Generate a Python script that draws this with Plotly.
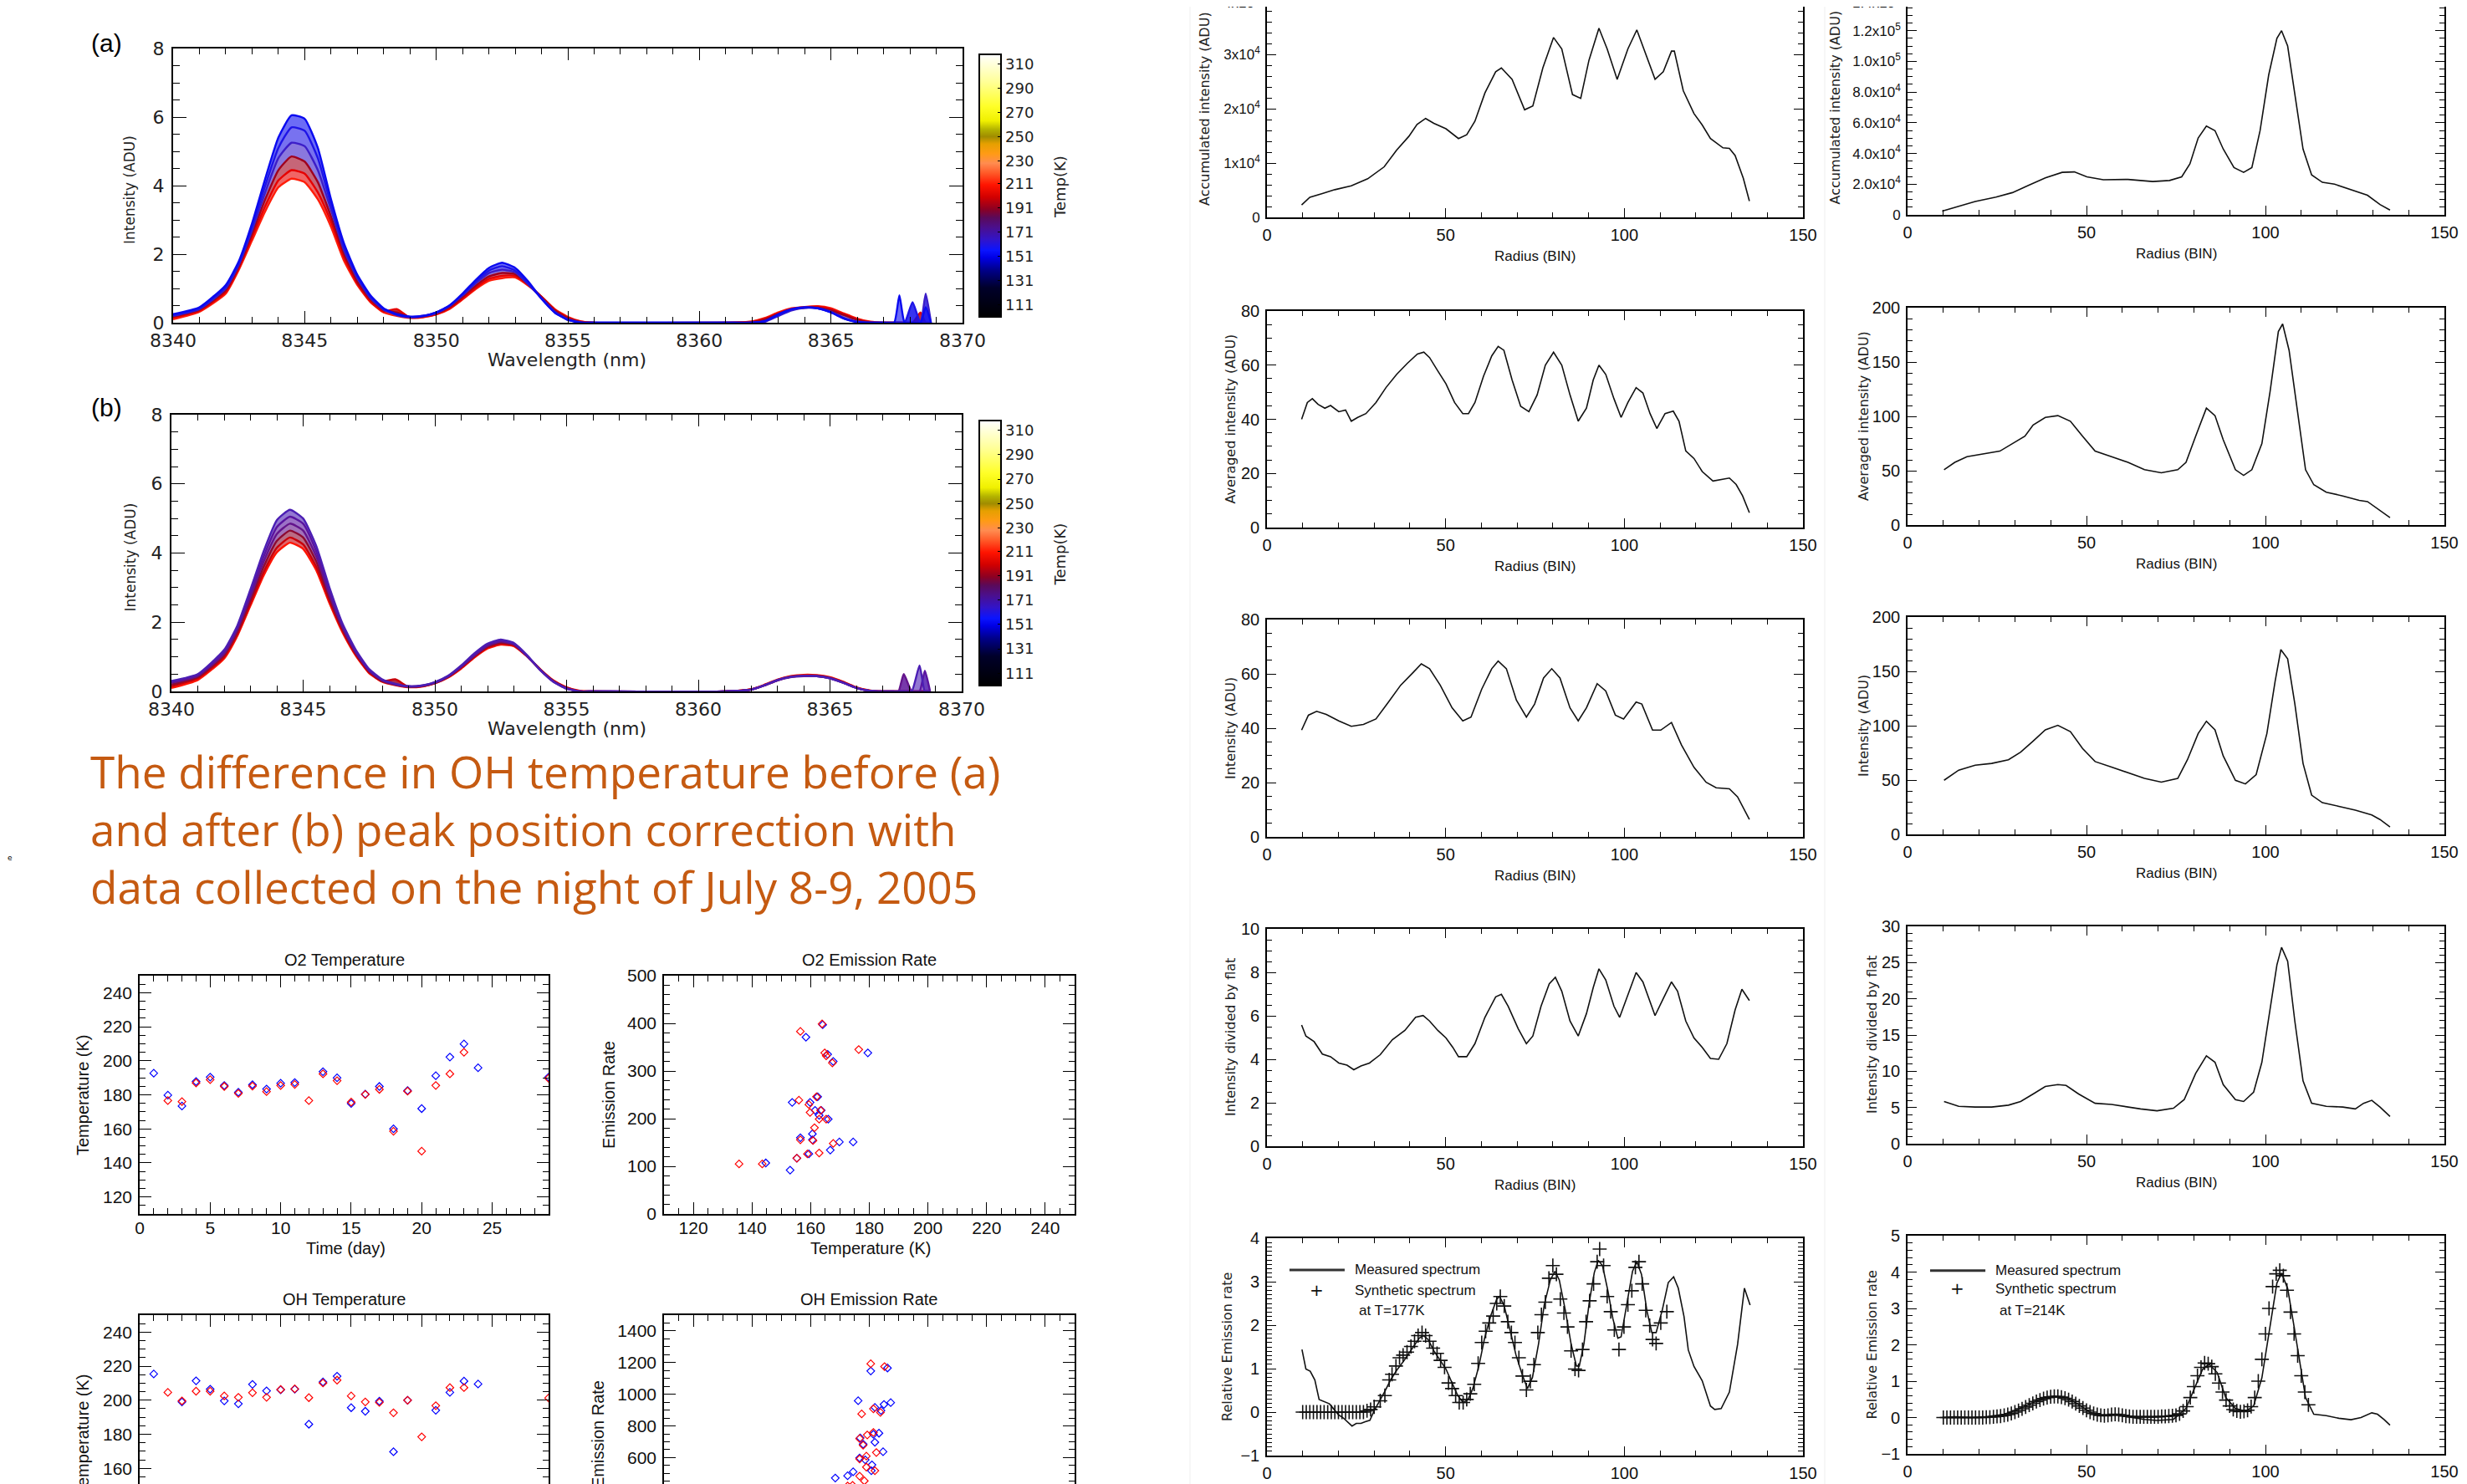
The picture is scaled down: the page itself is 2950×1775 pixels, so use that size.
import plotly.graph_objects as go

W, H = 2950, 1775

# ======================= DATA =======================
# ---- OH spectra (a) before and (b) after peak-position correction ----
wavelength_nm = [8340, 8341, 8342, 8342.5, 8343, 8343.5, 8344, 8344.5, 8345, 8345.5, 8346, 8346.5,
                 8347, 8347.5, 8348, 8348.5, 8349, 8349.5, 8350, 8350.5, 8351, 8351.5, 8352, 8352.5,
                 8353, 8353.5, 8354, 8354.5, 8355, 8355.5, 8356, 8361, 8362, 8362.5, 8363, 8363.5,
                 8364, 8364.5, 8365, 8365.5, 8366, 8366.5, 8367, 8367.4, 8367.6, 8367.8, 8368.1,
                 8368.4, 8368.6, 8368.8]

spec_a_T145 = [0.25, 0.45, 1.1, 1.8, 2.9, 4.2, 5.4, 6.05, 5.95, 5.1, 3.6, 2.3, 1.4, 0.8, 0.42, 0.25, 0.18, 0.2,
               0.3, 0.5, 0.85, 1.25, 1.6, 1.75, 1.6, 1.2, 0.7, 0.3, 0.08, 0, 0, 0, 0, 0.05, 0.25, 0.4, 0.45,
               0.42, 0.3, 0.12, 0.02, 0, 0, 0, 0.8, 0, 0, 0, 0.45, 0]
spec_a_T152 = [0.22, 0.42, 1.05, 1.75, 2.8, 4.0, 5.1, 5.7, 5.6, 4.8, 3.45, 2.2, 1.35, 0.75, 0.4, 0.24, 0.17, 0.2,
               0.3, 0.5, 0.82, 1.2, 1.52, 1.65, 1.52, 1.15, 0.7, 0.3, 0.08, 0, 0, 0, 0, 0.05, 0.22, 0.38, 0.44,
               0.42, 0.3, 0.12, 0.02, 0, 0, 0, 0, 0, 0.6, 0, 0, 0]
spec_a_T165 = [0.2, 0.4, 1.0, 1.7, 2.7, 3.8, 4.8, 5.25, 5.15, 4.45, 3.3, 2.1, 1.3, 0.72, 0.38, 0.22, 0.16, 0.19,
               0.28, 0.48, 0.8, 1.15, 1.45, 1.55, 1.47, 1.12, 0.72, 0.32, 0.1, 0.01, 0, 0, 0, 0.03, 0.2, 0.36,
               0.43, 0.42, 0.32, 0.14, 0.03, 0, 0, 0, 0, 0, 0, 0, 0.85, 0]
spec_a_T186 = [0.18, 0.38, 0.95, 1.65, 2.6, 3.6, 4.45, 4.85, 4.7, 4.1, 3.1, 2.0, 1.2, 0.68, 0.36, 0.3, 0.16, 0.18,
               0.27, 0.45, 0.75, 1.08, 1.35, 1.45, 1.42, 1.12, 0.75, 0.36, 0.13, 0.02, 0, 0, 0.02, 0.1, 0.25,
               0.38, 0.44, 0.44, 0.36, 0.22, 0.08, 0.01, 0, 0, 0, 0, 0, 0, 0, 0]
spec_a_T200 = [0.15, 0.35, 0.9, 1.6, 2.5, 3.4, 4.15, 4.45, 4.35, 3.8, 2.95, 1.9, 1.15, 0.62, 0.33, 0.4, 0.15, 0.17,
               0.25, 0.42, 0.7, 1.02, 1.28, 1.37, 1.37, 1.1, 0.76, 0.38, 0.15, 0.03, 0, 0, 0.03, 0.12, 0.28, 0.4,
               0.45, 0.47, 0.4, 0.25, 0.1, 0.02, 0, 0, 0, 0, 0, 0.3, 0, 0]
spec_a_T208 = [0.1, 0.32, 0.85, 1.55, 2.4, 3.25, 3.95, 4.2, 4.1, 3.6, 2.8, 1.8, 1.1, 0.6, 0.3, 0.2, 0.14, 0.16,
               0.24, 0.4, 0.68, 0.98, 1.22, 1.3, 1.32, 1.08, 0.76, 0.4, 0.17, 0.04, 0, 0, 0.04, 0.14, 0.3, 0.42,
               0.46, 0.48, 0.42, 0.27, 0.12, 0.03, 0, 0, 0, 0, 0, 0, 0, 0]

spec_b_T160 = [0.3, 0.5, 1.2, 1.9, 2.95, 4.05, 4.95, 5.25, 5.0, 4.2, 3.0, 1.95, 1.2, 0.65, 0.35, 0.22, 0.15, 0.17,
               0.27, 0.45, 0.75, 1.1, 1.38, 1.5, 1.4, 1.05, 0.62, 0.28, 0.08, 0, 0, 0, 0.05, 0.18, 0.33, 0.42,
               0.45, 0.44, 0.38, 0.25, 0.1, 0.02, 0, 0, 0, 0, 0, 0.75, 0, 0]
spec_b_T170 = [0.28, 0.48, 1.15, 1.85, 2.85, 3.9, 4.75, 5.05, 4.85, 4.05, 2.9, 1.9, 1.15, 0.62, 0.33, 0.21, 0.15,
               0.17, 0.26, 0.44, 0.73, 1.07, 1.35, 1.47, 1.38, 1.03, 0.62, 0.28, 0.08, 0, 0, 0, 0.05, 0.17, 0.32,
               0.42, 0.45, 0.44, 0.38, 0.25, 0.1, 0.02, 0, 0, 0, 0, 0, 0, 0.6, 0]
spec_b_T178 = [0.25, 0.45, 1.1, 1.8, 2.75, 3.75, 4.55, 4.85, 4.65, 3.9, 2.8, 1.85, 1.12, 0.6, 0.32, 0.2, 0.14, 0.16,
               0.25, 0.43, 0.71, 1.04, 1.32, 1.44, 1.36, 1.02, 0.62, 0.29, 0.09, 0, 0, 0, 0.05, 0.17, 0.32, 0.41,
               0.44, 0.44, 0.38, 0.25, 0.1, 0.02, 0, 0, 0, 0.5, 0, 0, 0, 0]
spec_b_T190 = [0.2, 0.42, 1.05, 1.72, 2.65, 3.6, 4.35, 4.65, 4.45, 3.75, 2.7, 1.8, 1.1, 0.58, 0.3, 0.19, 0.13, 0.15,
               0.24, 0.42, 0.7, 1.02, 1.3, 1.41, 1.35, 1.02, 0.63, 0.3, 0.1, 0, 0, 0, 0.05, 0.17, 0.32, 0.42, 0.45,
               0.45, 0.39, 0.26, 0.1, 0.02, 0, 0, 0, 0, 0, 0, 0, 0]
spec_b_T200 = [0.15, 0.38, 1.0, 1.65, 2.55, 3.45, 4.15, 4.45, 4.25, 3.6, 2.62, 1.75, 1.06, 0.55, 0.29, 0.35, 0.13,
               0.15, 0.24, 0.41, 0.68, 1.0, 1.27, 1.38, 1.33, 1.02, 0.64, 0.31, 0.11, 0.01, 0, 0, 0.06, 0.18, 0.33,
               0.43, 0.46, 0.46, 0.4, 0.27, 0.11, 0.02, 0, 0, 0, 0, 0, 0, 0, 0]
spec_b_T210 = [0.1, 0.33, 0.95, 1.6, 2.48, 3.35, 4.02, 4.3, 4.12, 3.5, 2.55, 1.7, 1.03, 0.53, 0.28, 0.18, 0.12, 0.14,
               0.23, 0.4, 0.66, 0.98, 1.24, 1.35, 1.31, 1.01, 0.64, 0.32, 0.12, 0.02, 0, 0, 0.06, 0.19, 0.34, 0.44,
               0.48, 0.47, 0.41, 0.28, 0.12, 0.03, 0, 0, 0, 0, 0, 0, 0, 0]

colorbar_ticks = [111, 131, 151, 171, 191, 211, 230, 250, 270, 290, 310]

# ---- O2 / OH temperature and emission-rate scatter ----
o2t_blue_day = [1, 2, 3, 4, 5, 6, 7, 8, 9, 10, 11, 13, 14, 15, 16, 17, 18, 19, 20, 21, 22, 23, 24, 29]
o2t_blue_T = [192.7, 179.8, 173.4, 187.8, 190.4, 185.5, 181.5, 185.9, 183.4, 186.8, 187.2, 193.6, 190.0, 174.9,
              180.4, 184.9, 160.0, 182.5, 171.9, 191.2, 202.2, 209.9, 195.9, 190.4]
o2t_red_day = [2, 3, 4, 5, 6, 7, 8, 9, 10, 11, 12, 13, 14, 15, 16, 17, 18, 19, 20, 21, 22, 23, 29]
o2t_red_T = [176.6, 176.0, 187.0, 188.9, 184.9, 180.8, 185.1, 181.9, 185.5, 186.1, 176.6, 192.3, 188.3, 175.7,
             180.2, 183.2, 158.6, 182.1, 146.9, 185.5, 192.3, 205.0, 189.7]

o2e_red_T = [135.6, 143.5, 156.0, 156.5, 159.4, 159.8, 160.8, 156.5, 155.3, 158.9, 161.3, 162.0, 162.9, 163.4,
             162.9, 163.9, 164.8, 165.3, 165.3, 167.4, 167.7, 176.4]
o2e_red_rate = [105, 105, 238.7, 383, 229.6, 213, 154, 155.6, 117, 126, 181, 246, 199, 217.5, 128, 398.8, 338,
                199, 332, 317, 148, 345]
o2e_blue_T = [144.7, 153.0, 153.7, 156.5, 155.3, 158.4, 159.4, 159.8, 160.6, 160.6, 161.5, 162.4, 162.9, 163.6,
              164.1, 165.8, 166.0, 166.7, 167.7, 169.8, 174.5, 179.5]
o2e_blue_rate = [107, 92, 234, 160, 117, 371, 126, 234, 168, 155.6, 217.5, 246, 207, 217.5, 397, 335, 199, 134,
                 320, 151, 151, 338]

oht_blue_day = [1, 3, 4, 5, 6, 7, 8, 9, 10, 11, 12, 13, 14, 15, 16, 17, 18, 19, 21, 22, 23, 24]
oht_blue_T = [215.4, 199.0, 211.4, 206.5, 199.6, 197.9, 209.3, 205.5, 206.1, 206.5, 185.9, 210.7, 214.1, 195.6,
              193.5, 199.4, 169.7, 200.0, 194.1, 204.6, 211.2, 209.5]
oht_red_day = [2, 3, 4, 5, 6, 7, 8, 9, 10, 11, 12, 13, 14, 15, 16, 17, 18, 19, 20, 21, 22, 23, 29]
oht_red_T = [204.6, 199.6, 205.3, 205.3, 202.5, 201.7, 204.4, 201.7, 206.3, 206.7, 201.5, 210.1, 211.8, 202.5,
             199.0, 198.7, 192.6, 200.0, 178.5, 196.8, 207.4, 207.4, 201.3]

ohe_red_T = [180.5, 185.2, 181.4, 177.4, 183.8, 176.7, 179.3, 181.4, 177.9, 176.7, 179.0, 179.0, 182.4, 181.9,
             176.7, 178.3, 172.6, 174.3]
ohe_red_rate = [1193, 1175, 908, 876, 885, 720, 743, 759, 678, 591, 609, 540, 632, 517, 483, 453, 421, 425]
ohe_blue_T = [180.5, 186.2, 176.2, 181.9, 185.0, 187.3, 184.0, 183.3, 181.4, 176.9, 181.9, 177.9, 184.7, 176.7,
              178.6, 180.9, 180.7, 174.5, 168.4, 172.6, 173.8]
ohe_blue_rate = [1147, 1166, 959, 917, 936, 947, 897, 754, 747, 724, 697, 685, 637, 598, 586, 554, 517, 510, 471,
                 485, 407]

# ---- radial profiles (left column: O2, right column: OH) ----
acc_o2_r = [9.7, 12, 15.5, 19, 23.6, 28.2, 32.8, 36.3, 39.7, 42, 44.4, 46.7, 50.1, 53.6, 55.9, 58.2, 61, 64, 65.6,
            68.6, 72.1, 74.4, 77.2, 80.2, 82.5, 85.5, 87.8, 90.1, 92.9, 95.2, 98, 101, 103.5, 105.8, 108.6, 110.9,
            113.2, 114, 116.5, 119.5, 121.8, 124.1, 127.6, 129.4, 131, 133.3, 135]
acc_o2_val = [2300, 3700, 4400, 5100, 5800, 7100, 9300, 12400, 14900, 17100, 18200, 17300, 16300, 14500, 15200,
              17700, 22900, 26800, 27500, 25400, 19800, 20500, 27500, 33100, 31000, 22600, 21900, 28900, 34800,
              31000, 25400, 31000, 34500, 30300, 25400, 26800, 30600, 30600, 23300, 19100, 17000, 14500, 12800,
              12700, 11400, 7200, 3000]
acc_oh_r = [9.7, 14.3, 18.9, 24.7, 29.3, 33.9, 38.5, 43.2, 46.6, 50.1, 54.7, 61.6, 68.5, 73.2, 76.6, 78.9, 81.2,
            83.5, 85.9, 88.2, 91.2, 93.9, 96.2, 98.5, 100.9, 103.2, 104.5, 106.2, 108.2, 110.5, 112.9, 115.9,
            119.3, 123.9, 128.5, 132, 134.8]
acc_oh_val = [2400, 5500, 8700, 11600, 14500, 19300, 24100, 27700, 28000, 24800, 22900, 23100, 21700, 22400,
              24800, 33300, 50100, 57800, 54900, 42900, 30800, 27700, 30800, 54900, 91100, 115000, 120000, 110000,
              79000, 42900, 26000, 21200, 20000, 16400, 12800, 6700, 3100]

avg_o2_r = [9.7, 11.3, 12.7, 14.3, 16.2, 17.8, 20.1, 22, 23.6, 25.4, 27.7, 30.5, 33.3, 36.3, 39.3, 42.1, 43.9, 45.5,
            47.8, 50.1, 52.5, 54.8, 56.4, 58.2, 60.6, 62.9, 64.7, 66.3, 68.6, 71, 73.3, 75.6, 77.9, 80.2, 82.5,
            84.8, 87.1, 89.4, 91.3, 92.9, 94.8, 97.1, 99.1, 101, 103.3, 105.2, 107.2, 109.1, 111.4, 113.7, 115.3,
            117.2, 119.5, 121.8, 124.8, 127.6, 129.4, 131.3, 133.1, 135]
avg_o2_val = [40.0, 46.2, 47.6, 45.5, 44.1, 45.1, 42.8, 43.4, 39.3, 40.7, 42.1, 46.2, 51.7, 56.6, 60.7, 64.1, 64.8,
              62.8, 57.9, 53.1, 46.2, 42.1, 42.1, 46.2, 55.9, 63.4, 66.9, 65.5, 54.5, 44.8, 42.8, 49.0, 60.0, 64.8,
              60.0, 49.0, 39.3, 44.1, 54.5, 60.0, 56.6, 47.6, 40.7, 46.2, 51.7, 49.7, 42.1, 36.6, 42.1, 43.0, 39.3,
              28.3, 25.5, 20.7, 17.2, 17.9, 18.3, 15.9, 11.7, 5.5]
avg_oh_r = [10.2, 13.2, 16.6, 21.2, 25.8, 29.3, 32.8, 35.1, 38.5, 42, 45.5, 48.9, 52.4, 57, 61.6, 66.2, 70.9, 75.5,
            77.8, 80.5, 83.5, 85.9, 88.2, 91.6, 93.9, 96.2, 99, 101.3, 103.6, 104.8, 106.6, 108.9, 111.2, 113.5,
            117, 121.6, 126.2, 128.5, 131.3, 134.8]
avg_oh_val = [50.9, 57.7, 62.9, 65.3, 68.0, 74.9, 81.8, 92.1, 99.0, 100.7, 95.5, 81.8, 68.0, 62.9, 57.7, 50.9, 48.1,
              50.9, 57.7, 81.8, 107.6, 100.7, 78.4, 50.9, 45.7, 50.9, 74.9, 123, 178, 185, 160.8, 105.8, 50.9,
              37.1, 30.2, 26.8, 22.7, 21.6, 14.8, 6.9]

int_o2_r = [9.7, 11.6, 13.9, 16.6, 20.1, 23.6, 27, 30.5, 34, 37.4, 40.9, 43.2, 45.5, 48.5, 51.8, 54.8, 57.1, 60.1,
            62.9, 64.7, 67, 69.8, 72.6, 74.9, 77.4, 79.7, 82, 84.8, 87.1, 89.4, 92.4, 94.8, 97.5, 99.8, 103.3, 104.9,
            107.9, 110.2, 113.2, 116, 119.5, 122.9, 125.7, 129.4, 131.7, 135]
int_o2_val = [39.3, 44.8, 46.2, 45.1, 42.7, 40.7, 41.4, 43.4, 49.6, 55.8, 60.5, 63.7, 61.9, 55.8, 47.5, 42.7, 44.1,
              54.4, 61.9, 64.7, 61.9, 50.3, 44.1, 48.9, 58.5, 61.9, 58.5, 47.5, 42.7, 47.5, 56.4, 53.7, 44.8, 43.4,
              49.6, 48.9, 39.3, 39.3, 42.1, 33.8, 25.6, 20.1, 18.1, 17.7, 14.7, 6.4]
int_oh_r = [10.2, 14.3, 18.9, 23.5, 28.2, 31.6, 35.1, 38.5, 42, 45.5, 48.9, 52.4, 57, 61.6, 66.2, 70.9, 75.5, 78.2,
            81.2, 83.5, 85.9, 88.2, 91.6, 94.4, 97.4, 100.4, 102.7, 104.3, 106.2, 108.2, 110.5, 112.9, 115.9,
            120.5, 125.1, 129.7, 132, 134.8]
int_oh_val = [49.8, 59.1, 63.6, 65.3, 68.7, 75.6, 85.9, 96.2, 100.3, 94.5, 79.0, 67.0, 61.9, 56.7, 51.5, 48.1, 51.5,
              68.7, 92.8, 104.1, 96.2, 72.2, 49.8, 46.4, 55.0, 92.8, 140.9, 170, 161.5, 120.3, 65.3, 36.1, 29.2,
              25.8, 22.3, 17.9, 13.7, 6.9]

flat_o2_r = [9.7, 10.9, 13.2, 15.5, 17.8, 20.1, 22.4, 24.3, 26.3, 28.7, 31.7, 35.1, 38.6, 41.6, 43.7, 45.5, 47.8,
             50.1, 52, 53.6, 55.9, 58.2, 61, 64, 65.6, 67.5, 70.3, 72.6, 74.4, 76.7, 79, 80.7, 82.5, 84.8, 87.1,
             89.4, 91.3, 92.9, 94.8, 97.1, 98.7, 101, 103.3, 105.2, 107.2, 108.6, 110.9, 113.2, 114.9, 117.2,
             119.5, 121.8, 124.1, 126.4, 128.7, 131, 132.9, 135]
flat_o2_val = [5.58, 5.07, 4.81, 4.24, 4.12, 3.83, 3.73, 3.52, 3.69, 3.83, 4.21, 4.90, 5.33, 5.93, 6.01, 5.76, 5.33,
               4.98, 4.55, 4.12, 4.12, 4.72, 5.93, 6.87, 6.99, 6.44, 5.41, 4.72, 5.07, 6.44, 7.47, 7.77, 7.13, 5.76,
               5.07, 6.10, 7.30, 8.16, 7.65, 6.44, 5.93, 6.96, 7.99, 7.56, 6.62, 6.01, 6.79, 7.56, 7.13, 5.76, 4.98,
               4.55, 4.04, 4.00, 4.72, 6.27, 7.22, 6.70]
flat_oh_r = [10.2, 14.3, 18.9, 23.5, 28.2, 31.6, 35.1, 38.5, 42, 44.3, 47.8, 52.4, 57, 61.6, 65.1, 69.7, 74.3, 77.3,
             80.5, 83.5, 85.9, 88.2, 91.6, 93.9, 96.7, 99, 101.3, 103.2, 104.5, 106.2, 108.2, 110.5, 112.9, 117,
             121.6, 125.1, 127.4, 129.7, 132, 134.8]
flat_oh_val = [5.83, 5.16, 5.06, 5.06, 5.32, 5.83, 6.87, 7.90, 8.16, 8.05, 6.87, 5.58, 5.42, 5.06, 4.80, 4.54, 4.90,
               6.09, 9.71, 12.13, 11.25, 8.16, 6.09, 5.83, 7.12, 11.25, 18.48, 24.68, 27.1, 25.19, 16.93, 8.67,
               5.58, 5.16, 5.06, 4.80, 5.58, 5.99, 5.06, 3.77]

meas_o2_r = [9.8, 10.9, 12.1, 13.4, 14.6, 15.9, 17.5, 18.8, 20, 21.3, 22.5, 23.8, 25, 26.3, 27.5, 28.8, 30, 31.3, 33,
             34.6, 36.3, 38.4, 40.5, 42.6, 43.8, 45.1, 46.7, 48.4, 50.1, 51.8, 53.4, 54.9, 56.3, 57.6, 59.3, 60.9,
             62.6, 64.3, 65.1, 66.4, 68, 69.7, 71.4, 72.9, 74.3, 76, 77.6, 79.3, 80.6, 81.8, 83.5, 85.1, 86.6, 87.4,
             88.7, 90.2, 91.6, 92.7, 93.9, 95.4, 96.8, 98.2, 99.1, 100.6, 102.3, 103.5, 104.8, 106.3, 107.7, 108.9,
             110.6, 112.3, 113.8, 115.1, 116.7, 117.9, 119.5, 121.8, 124.1, 125.3, 127.1, 129.4, 131.7, 133.6, 135.2]
meas_o2_val = [1.44, 0.99, 0.94, 0.74, 0.29, 0.24, 0.19, 0.06, -0.06, -0.13, -0.22, -0.32, -0.26, -0.26, -0.22,
               -0.19, 0.03, 0.22, 0.48, 0.74, 0.96, 1.19, 1.44, 1.70, 1.76, 1.67, 1.41, 1.19, 0.99, 0.67, 0.38,
               0.22, 0.29, 0.54, 1.06, 1.70, 2.21, 2.60, 2.66, 2.44, 1.89, 1.31, 0.87, 0.54, 0.80, 1.57, 2.47, 3.04,
               3.24, 3.04, 2.34, 1.57, 1.06, 1.06, 1.57, 2.53, 3.21, 3.49, 3.37, 2.79, 2.15, 1.70, 1.73, 2.47, 3.24,
               3.46, 3.17, 2.34, 1.83, 1.83, 2.34, 2.98, 3.11, 2.85, 2.20, 1.43, 1.05, 0.72, 0.14, 0.06, 0.08, 0.46,
               1.56, 2.85, 2.46]
syn_o2_r = [10, 11, 12, 13, 14, 15, 16, 17, 18, 19, 20, 21, 22, 23, 24, 25, 26, 27, 28, 29, 30, 31.7, 33, 34.2, 35,
            36.1, 37.1, 38.1, 39.2, 40.3, 41.3, 42.3, 43.4, 44.4, 45.5, 46.5, 47.6, 48.6, 49.7, 50.8, 51.8, 52.8,
            53.8, 54.9, 55.9, 56.9, 58, 59.1, 60.1, 61.2, 62.2, 63.3, 64.3, 65.3, 66.4, 67.4, 68.4, 69.4, 70.5, 71.5,
            72.6, 73.7, 74.7, 75.8, 76.8, 77.9, 78.9, 80, 81, 82.1, 83.1, 84.1, 85.1, 86.2, 87.2, 88.3, 89.3, 90.3,
            91.4, 92.4, 93.1, 94.2, 95.2, 96.2, 97.2, 98.5, 99.9, 101, 102.1, 103.1, 104.1, 105, 106, 107.1, 107.9,
            108.9, 110.2, 111.9]
syn_o2_val = [0, 0, 0, 0, 0, 0, 0, 0, 0, 0, 0, 0, 0, 0, 0, 0, 0, 0, 0.03, 0.06, 0.12, 0.26, 0.38, 0.74, 0.87, 1.06,
              1.25, 1.31, 1.38, 1.51, 1.63, 1.76, 1.83, 1.76, 1.63, 1.47, 1.35, 1.19, 1.03, 0.67, 0.54, 0.38, 0.22,
              0.22, 0.29, 0.42, 0.64, 1.12, 1.60, 1.86, 2.05, 2.21, 2.50, 2.66, 2.44, 2.08, 1.83, 1.60, 1.25, 0.83,
              0.51, 0.71, 1.09, 1.83, 2.24, 2.53, 3.08, 3.37, 3.17, 2.60, 2.28, 1.96, 1.41, 0.99, 0.96, 1.44, 2.08,
              2.56, 2.95, 3.46, 3.75, 3.37, 2.66, 2.31, 1.89, 1.44, 1.96, 2.47, 2.79, 3.33, 3.46, 2.95, 2.34, 1.99,
              1.67, 1.58, 2.05, 2.31]

meas_oh_r = [9.7, 13.2, 17.8, 22.4, 27, 30.5, 33.9, 37.4, 40.8, 44.3, 47.8, 51.2, 54.7, 58.2, 61.6, 66.2, 69.7,
             74.3, 77.8, 80.1, 82.4, 84.2, 86.5, 88.9, 91.6, 94.4, 96.7, 99, 101.3, 103.2, 104.5, 106.2, 107.8,
             109.6, 111.2, 113.5, 117, 120.5, 123.9, 126.7, 129.7, 131.3, 133.2, 134.8]
meas_oh_val = [0, 0.02, 0, 0.03, 0.09, 0.21, 0.36, 0.51, 0.59, 0.55, 0.36, 0.13, 0.05, 0.09, 0.02, -0.05, -0.08,
               -0.05, 0.25, 0.78, 1.32, 1.47, 1.24, 0.55, 0.25, 0.17, 0.32, 1.09, 2.55, 3.70, 3.97, 3.55, 2.62, 1.55,
               0.55, 0.09, 0.05, -0.02, -0.06, 0, 0.13, 0.09, -0.06, -0.21]
syn_oh_r = [10, 11, 12, 13, 14, 15, 16, 17, 18, 19, 20, 21, 22, 23, 24, 25, 26, 27, 28, 29, 30, 31, 32, 33, 34, 35,
            36, 37, 38, 39, 40, 41, 42, 43, 44, 45, 46, 47, 48, 49, 50, 51, 52, 53, 54, 55, 56, 57, 58, 59, 60, 61,
            62, 63, 64, 65, 66, 67, 68, 69, 70, 71, 72, 73, 74, 75, 76, 77, 78, 79, 80, 81, 82, 83, 84, 85, 86, 87,
            88, 89, 90, 91, 92, 93, 94, 95, 96, 97, 98, 99, 100, 101, 102, 103, 104, 105, 106, 107, 108, 109, 110,
            111, 112]
syn_oh_val = [0, 0, 0, 0, 0, 0, 0, 0, 0, 0, 0, 0, 0.01, 0.01, 0.02, 0.03, 0.04, 0.06, 0.08, 0.11, 0.15, 0.19, 0.24,
              0.29, 0.34, 0.39, 0.44, 0.48, 0.52, 0.55, 0.57, 0.58, 0.58, 0.56, 0.53, 0.49, 0.44, 0.38, 0.32, 0.26,
              0.2, 0.15, 0.11, 0.08, 0.06, 0.05, 0.06, 0.08, 0.09, 0.08, 0.06, 0.04, 0.03, 0.02, 0.02, 0.02, 0.02,
              0.02, 0.02, 0.02, 0.02, 0.03, 0.03, 0.04, 0.05, 0.06, 0.1, 0.18, 0.3, 0.55, 0.85, 1.15, 1.38, 1.5,
              1.48, 1.4, 1.2, 0.95, 0.7, 0.48, 0.32, 0.22, 0.18, 0.16, 0.17, 0.2, 0.3, 0.55, 1.0, 1.6, 2.3, 3.0,
              3.6, 3.95, 4.05, 3.9, 3.5, 2.9, 2.3, 1.7, 1.15, 0.7, 0.35]

# ======================= STYLE / LAYOUT =======================
LIB = "Liberation Sans, Arial, sans-serif"
SANS = "DejaVu Sans, sans-serif"
BLUE, RED = "#0000FF", "#FF0000"

temp_colorscale_stops = [(101, "#000000"), (125, "#00002a"), (140, "#00008c"), (150, "#0000e6"), (156, "#0a14ff"),
                         (165, "#3214c8"), (175, "#4b0f8c"), (183, "#5a0a5a"), (190, "#8c0023"), (200, "#d20000"),
                         (210, "#ff1400"), (220, "#ff5a28"), (228, "#ff8c50"), (236, "#ff9b14"), (244, "#e6a000"),
                         (250, "#a08c00"), (256, "#b4b400"), (263, "#f0f000"), (275, "#ffff28"), (295, "#ffff96"),
                         (318, "#ffffff")]
CMIN, CMAX = 101, 318
temp_colorscale = [[(t - CMIN) / (CMAX - CMIN), c] for t, c in temp_colorscale_stops]


def rgba(hexcol, a):
    h = hexcol.lstrip("#")
    return f"rgba({int(h[0:2], 16)},{int(h[2:4], 16)},{int(h[4:6], 16)},{a})"


def ydom(top, bot):
    return [max(0.0, 1 - bot / H), min(1.0, 1 - top / H)]


def clip(top, bot, lo, hi):
    """visible domain and range for a panel whose frame may run off the page"""
    vt, vb = max(top, 0), min(bot, H)
    per = (hi - lo) / (bot - top)
    return [1 - vb / H, 1 - vt / H], [lo + (bot - vb) * per, hi - (vt - top) * per]


def axis(dom, anchor, rng, dtick, mdtick, tick0, font, ticklen=12, mticklen=6, lw=1.6, mirror="allticks",
         standoff=None, **kw):
    ax = dict(domain=dom, anchor=anchor, range=rng, tickmode="linear", dtick=dtick, tick0=tick0, ticks="inside",
              ticklen=ticklen, tickwidth=1.3, tickcolor="black", showline=True, linecolor="black", linewidth=lw,
              mirror=mirror, showgrid=False, zeroline=False, tickfont=font, automargin=False,
              minor=dict(tickmode="linear", dtick=mdtick, tick0=tick0, ticks="inside", ticklen=mticklen,
                         tickwidth=1, tickcolor="black", showgrid=False))
    if standoff is not None:
        ax["ticklabelstandoff"] = standoff
    ax.update(kw)
    return ax


def ann(text, x, y, size, family, angle=0, color="black", xanchor="center", yanchor="middle"):
    return dict(text=text, x=x / W, y=1 - y / H, xref="paper", yref="paper", showarrow=False,
                font=dict(size=size, family=family, color=color), textangle=angle,
                xanchor=xanchor, yanchor=yanchor)


fig = go.Figure()
layout = dict(width=W, height=H, margin=dict(l=0, r=0, t=0, b=0, pad=0, autoexpand=False),
              paper_bgcolor="white", plot_bgcolor="rgba(0,0,0,0)", showlegend=False)
anns, shapes = [], []

spec_font = dict(family=SANS, size=22, color="#222")
sc_font = dict(family=LIB, size=21, color="#111")
rp_font = dict(family=LIB, size=20, color="#111")
rp_font_small = dict(family=LIB, size=17, color="#111")

# ---------- 1,2: spectra (curves drawn from the lowest to the highest, each band filled to the one below) ----------
spec_panels = [
    (1, (199, 1143, 50, 378),
     [(spec_a_T208, "#ff1e0a"), (spec_a_T200, "#e60000"), (spec_a_T186, "#a0001e"),
      (spec_a_T165, "#3c1ec8"), (spec_a_T152, "#1e14e6"), (spec_a_T145, "#0a0af0")], "(a)", 44),
    (2, (197, 1142, 488, 819),
     [(spec_b_T210, "#ff1400"), (spec_b_T200, "#c8000a"), (spec_b_T190, "#8c0a32"),
      (spec_b_T178, "#64148c"), (spec_b_T170, "#5a14a0"), (spec_b_T160, "#4b1eb4")], "(b)", 480),
]
for n, (x0, x1, top, bot), curves, tag, tag_y in spec_panels:
    xs, ys = ("x" if n == 1 else f"x{n}"), ("y" if n == 1 else f"y{n}")
    for i, (vals, col) in enumerate(curves):
        fig.add_trace(go.Scatter(x=wavelength_nm, y=vals, mode="lines", xaxis=xs, yaxis=ys, hoverinfo="skip",
                                 fill=(None if i == 0 else "tonexty"), fillcolor=rgba(col, 0.6),
                                 line=dict(color=col, width=2.4, shape="spline", smoothing=0.5)))
    layout["xaxis" + ("" if n == 1 else str(n))] = axis([x0 / W, x1 / W], ys, [8340, 8370], 5, 1, 8340, spec_font,
                                                        ticklen=14, mticklen=7, lw=2, standoff=1)
    layout["yaxis" + ("" if n == 1 else str(n))] = axis(ydom(top, bot), xs, [0, 8], 2, 0.5, 0, spec_font,
                                                        ticklen=16, mticklen=8, lw=2, standoff=4)
    cy = (top + bot) / 2
    fig.add_trace(go.Scatter(x=[None], y=[None], mode="markers", xaxis=xs, yaxis=ys, hoverinfo="skip",
                             marker=dict(color=[colorbar_ticks[0]], cmin=CMIN, cmax=CMAX, colorscale=temp_colorscale,
                                         showscale=True,
                                         colorbar=dict(x=1163 / W, xanchor="left", y=1 - cy / H, yanchor="middle",
                                                       len=bot - top - 14, lenmode="pixels", thickness=26,
                                                       thicknessmode="pixels", outlinewidth=2, outlinecolor="black",
                                                       tickmode="array", tickvals=colorbar_ticks, ticks="inside",
                                                       ticklen=5, tickcolor="black", xpad=0, ypad=0,
                                                       tickfont=dict(family=SANS, size=18, color="#222")))))
    anns.append(ann(tag, 120, tag_y, 30, LIB))
    anns.append(ann("Intensity (ADU)", 147, cy + 5, 17, SANS, angle=-90, color="#222"))
    anns.append(ann("Wavelength (nm)", 670, bot + 45, 22, SANS, color="#222"))
    anns.append(ann("Temp(K)", 1259, cy + 2, 18, SANS, angle=-90, color="#222"))

# ---------- orange caption (one three-line text) ----------
caption_lines = ["The difference in OH temperature before (a)",
                 "and after (b) peak position correction with",
                 "data collected on the night of July 8-9, 2005"]
cap = ann("<br>".join(caption_lines), 98, 984, 53, "Open Sans, sans-serif", color="#C55A11", xanchor="left")
cap["align"] = "left"
anns.append(cap)
anns.append(ann("e", 4, 1018, 9, SANS))

# ---------- 3-6: O2 / OH scatter ----------
scatter_panels = [
    (3, (159, 648, 1159, 1444), [0, 29], [110, 250], 5, 1, 20, 5, 0,
     [(o2t_blue_day, o2t_blue_T, BLUE), (o2t_red_day, o2t_red_T, RED)], "O2 Temperature", "Time (day)",
     "Temperature (K)", 91),
    (4, (786, 1277, 1159, 1444), [110, 250], [0, 500], 20, 5, 100, 20, 120,
     [(o2e_blue_T, o2e_blue_rate, BLUE), (o2e_red_T, o2e_red_rate, RED)], "O2 Emission Rate", "Temperature (K)",
     "Emission Rate", 720),
    (5, (159, 648, 1565, 1850), [0, 29], [110, 250], 5, 1, 20, 5, 0,
     [(oht_blue_day, oht_blue_T, BLUE), (oht_red_day, oht_red_T, RED)], "OH Temperature", None,
     "Temperature (K)", 91),
    (6, (786, 1277, 1565, 1849), [110, 250], [0, 1500], 20, 5, 200, 50, 120,
     [(ohe_blue_T, ohe_blue_rate, BLUE), (ohe_red_T, ohe_red_rate, RED)], "OH Emission Rate", None,
     "Emission Rate", 707),
]
for n, (x0, x1, top, bot), xr, yr, xdt, xmdt, ydt, ymdt, xt0, sets, title, xtitle, ytitle, ytx in scatter_panels:
    xs, ys = f"x{n}", f"y{n}"
    for xv, yv, col in sets:
        fig.add_trace(go.Scatter(x=xv, y=yv, mode="markers", xaxis=xs, yaxis=ys, hoverinfo="skip",
                                 marker=dict(symbol="diamond-open", size=7, color=col, line=dict(width=1.2, color=col))))
    dom, rng = clip(top, bot, yr[0], yr[1])
    cut = bot > H
    if cut:
        layout[f"xaxis{n}"] = axis([x0 / W, x1 / W], ys, xr, xdt, xmdt, xt0, sc_font, ticklen=14, mticklen=7,
                                   side="top", showticklabels=False, mirror=False)
        layout[f"yaxis{n}"] = axis(dom, xs, rng, ydt, ymdt, 0, sc_font, ticklen=14, mticklen=7, standoff=3,
                                   ticklabeloverflow="allow")
    else:
        layout[f"xaxis{n}"] = axis([x0 / W, x1 / W], ys, xr, xdt, xmdt, xt0, sc_font, ticklen=14, mticklen=7,
                                   standoff=-3)
        layout[f"yaxis{n}"] = axis(dom, xs, rng, ydt, ymdt, 0, sc_font, ticklen=14, mticklen=7, standoff=3)
    cx = (x0 + x1) / 2
    anns.append(ann(title, cx, top - 19, 20, LIB, color="#111"))
    if xtitle:
        anns.append(ann(xtitle, cx + 2, bot + 41, 20, LIB, color="#111"))
    anns.append(ann(ytitle, ytx, top + 143, 20, LIB, angle=-90, color="#111"))

# ---------- 7-16: radial profiles ----------
C1, C2 = (1507, 2148), (2273, 2915)
e4 = "x10<sup>4</sup>"
e5 = "x10<sup>5</sup>"
radial_panels = [
    (7, C1, (-8, 252), [0, 40000], acc_o2_r, acc_o2_val, None, None, 10000, 2000,
     dict(tickmode="array", tickvals=[0, 10000, 20000, 30000], ticktext=["0", "1" + e4, "2" + e4, "3" + e4],
          tickfont=rp_font_small),
     "Accumulated intensity (ADU)", 1433),
    (8, C2, (-8, 249), [0, 140000], acc_oh_r, acc_oh_val, None, None, 20000, 5000,
     dict(tickmode="array", tickvals=[0, 20000, 40000, 60000, 80000, 100000, 120000],
          ticktext=["0", "2.0" + e4, "4.0" + e4, "6.0" + e4, "8.0" + e4, "1.0" + e5, "1.2" + e5],
          tickfont=rp_font_small),
     "Accumulated intensity (ADU)", 2186),
    (9, C1, (364, 623), [0, 80], avg_o2_r, avg_o2_val, None, None, 20, 5, {}, "Averaged intensity (ADU)", 1463),
    (10, C2, (360, 620), [0, 200], avg_oh_r, avg_oh_val, None, None, 50, 10, {}, "Averaged intensity (ADU)", 2220),
    (11, C1, (733, 993), [0, 80], int_o2_r, int_o2_val, None, None, 20, 5, {}, "Intensity (ADU)", 1463),
    (12, C2, (730, 990), [0, 200], int_oh_r, int_oh_val, None, None, 50, 10, {}, "Intensity (ADU)", 2220),
    (13, C1, (1103, 1363), [0, 10], flat_o2_r, flat_o2_val, None, None, 2, 0.5, {}, "Intensity divided by flat",
     1463),
    (14, C2, (1100, 1360), [0, 30], flat_oh_r, flat_oh_val, None, None, 5, 1, {}, "Intensity divided by flat",
     2230),
    (15, C1, (1473, 1733), [-1, 4], meas_o2_r, meas_o2_val, syn_o2_r, syn_o2_val, 1, 0.1, {},
     "Relative Emission rate", 1459),
    (16, C2, (1470, 1731), [-1, 5], meas_oh_r, meas_oh_val, syn_oh_r, syn_oh_val, 1, 0.2, {},
     "Relative Emission rate", 2230),
]
for n, (x0, x1), (top, bot), yr, rx, ry, sx, sy, ydt, ymdt, yextra, ytitle, ytx in radial_panels:
    xs, ys = f"x{n}", f"y{n}"
    fig.add_trace(go.Scatter(x=rx, y=ry, mode="lines", xaxis=xs, yaxis=ys, hoverinfo="skip",
                             line=dict(color="#111", width=1.6)))
    if sx is not None:
        fig.add_trace(go.Scatter(x=sx, y=sy, mode="markers", xaxis=xs, yaxis=ys, hoverinfo="skip",
                                 marker=dict(symbol="cross-thin-open", size=12, color="#111",
                                             line=dict(width=1.6, color="#111"))))
    dom, rng = clip(top, bot, yr[0], yr[1])
    topcut = top < 0
    layout[f"xaxis{n}"] = axis([x0 / W, x1 / W], ys, [0, 150], 50, 10, 0, rp_font, ticklen=11, mticklen=6, lw=2.4,
                               mirror=(False if topcut else "allticks"), standoff=2)
    layout[f"yaxis{n}"] = axis(dom, xs, rng, ydt, ymdt, 0, rp_font, ticklen=11, mticklen=6, lw=1.6, standoff=3,
                               **yextra)
    cx, cy = (x0 + x1) / 2, (top + bot) / 2
    anns.append(ann("Radius (BIN)", cx, bot + 46, 17, LIB, color="#111"))
    anns.append(ann(ytitle, ytx, cy, 16, SANS, angle=-90, color="#222"))

# top labels clipped by the page edge
anns.append(ann("4" + e4, 1501, -6, 17, LIB, color="#111", xanchor="right"))
anns.append(ann("1.4" + e5, 2267, -6, 17, LIB, color="#111", xanchor="right"))

# legends in the bottom panels
for n, temp_text in [(15, "at T=177K"), (16, "at T=214K")]:
    y_meas = 0.854 if n == 15 else 0.84
    y_syn = 0.76 if n == 15 else 0.758
    y_at = 0.668 if n == 15 else 0.658
    shapes.append(dict(type="line", xref=f"x{n} domain", yref=f"y{n} domain", x0=0.042, x1=0.145,
                       y0=y_meas, y1=y_meas, line=dict(color="#333", width=3)))
    for txt, xx, yy in [("Measured spectrum", 0.161, y_meas), ("Synthetic spectrum", 0.161, y_syn),
                        (temp_text, 0.168, y_at)]:
        anns.append(dict(text=txt, x=xx, y=yy, xref=f"x{n} domain", yref=f"y{n} domain", showarrow=False,
                         xanchor="left", yanchor="middle", font=dict(family=LIB, size=17, color="#111")))
    anns.append(dict(text="+", x=0.093, y=y_syn, xref=f"x{n} domain", yref=f"y{n} domain", showarrow=False,
                     xanchor="center", yanchor="middle", font=dict(family=SANS, size=20, color="#111")))

# faint borders of the pasted images
for xx in (1415, 2174):
    shapes.append(dict(type="line", xref="paper", yref="paper", x0=xx / W, x1=xx / W, y0=0, y1=1,
                       line=dict(color="#efefef", width=1)))

layout["annotations"] = anns
layout["shapes"] = shapes
fig.update_layout(**layout)
fig.write_html("out.html")
